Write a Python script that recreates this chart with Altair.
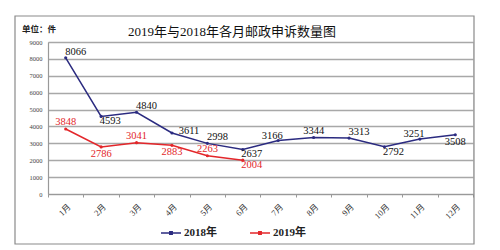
import altair as alt
import pandas as pd

months = ["1月", "2月", "3月", "4月", "5月", "6月", "7月", "8月", "9月", "10月", "11月", "12月"]
series_names = ["2018年", "2019年"]
v2018 = [8066, 4593, 4840, 3611, 2998, 2637, 3166, 3344, 3313, 2792, 3251, 3508]
v2019 = [3848, 2786, 3041, 2883, 2263, 2004]
# label placement keyword per point (like Excel's label position)
pos2018 = ["tr", "br", "tr", "r", "tr", "br", "tl", "t", "tr", "br", "tl", "b"]
pos2019 = ["t", "b", "t", "b", "t", "br"]
title_text = "2019年与2018年各月邮政申诉数量图"
unit_text = "单位：件"
y_ticks = [0, 1000, 2000, 3000, 4000, 5000, 6000, 7000, 8000, 9000]

rows = []
for m, v, p in zip(months, v2018, pos2018):
    rows.append({"month": m, "series": series_names[0], "value": v, "pos": p})
for m, v, p in zip(months, v2019, pos2019):
    rows.append({"month": m, "series": series_names[1], "value": v, "pos": p})
df = pd.DataFrame(rows)

NAVY = "#2b2b80"
RED = "#e3262a"
SERIF = "Liberation Serif, Noto Sans CJK SC"

x_enc = alt.X("month:N", sort=months, scale=alt.Scale(domain=months),
              axis=alt.Axis(title=None, labelAngle=-45, labelFont=SERIF, labelFontSize=8.5,
                            labelColor="#333", domainColor="#999", domainWidth=1.2,
                            tickBand="extent", tickColor="#999", tickSize=3,
                            labelPadding=5, grid=False))
y_enc = alt.Y("value:Q", scale=alt.Scale(domain=[0, 9000], nice=False),
              axis=alt.Axis(title=None, values=y_ticks, format="d", labelFont=SERIF,
                            labelFontSize=6.5, labelColor="#444", domainColor="#999",
                            domainWidth=1.2, ticks=False, labelPadding=6, labelOverlap=False,
                            gridColor="#a8a8a8", gridWidth=1.5))

color_enc = alt.Color("series:N", scale=alt.Scale(domain=series_names, range=[NAVY, RED]),
                      legend=alt.Legend(title=None, orient="none", legendX=112, legendY=180,
                                        direction="horizontal",
                                        symbolType="M-1,0H1M-0.12,-0.12H0.12V0.12H-0.12Z",
                                        symbolSize=400, symbolStrokeWidth=1.5,
                                        labelFont=SERIF, labelFontSize=11,
                                        labelFontWeight="bold", labelColor="#222",
                                        columnPadding=30, labelOffset=2))

base = alt.Chart(df)

lines = base.mark_line(strokeWidth=1.5, point=alt.OverlayMarkDef(filled=True, size=10)).encode(
    x=x_enc, y=y_enc, color=color_enc)

offsets = {"t": (0, -7), "b": (0, 7), "tr": (10, -6), "br": (9, 5), "tl": (-6, -5), "r": (17, -2)}
label_layers = []
for key, (dx, dy) in offsets.items():
    label_layers.append(
        base.transform_filter(alt.datum.pos == key).mark_text(
            dx=dx, dy=dy, font=SERIF, fontSize=10.5, baseline="middle", align="center"
        ).encode(
            x=x_enc,
            y=y_enc,
            text="value:Q",
            color=alt.condition(alt.datum.series == series_names[1], alt.value(RED), alt.value("#111")),
        )
    )

one = pd.DataFrame({"t": [unit_text], "title": [title_text]})
frame = alt.Chart(one).mark_rect(fill=None, stroke="#8a8a8a", strokeWidth=1.2, clip=False).encode(
    x=alt.value(-33), x2=alt.value(426), y=alt.value(-26), y2=alt.value(202))
unit = alt.Chart(one).mark_text(align="left", baseline="middle", font=SERIF, fontSize=8.5,
                                fontWeight="bold", color="#222").encode(
    x=alt.value(-26), y=alt.value(-13), text="t:N")
title = alt.Chart(one).mark_text(align="left", baseline="middle", font=SERIF, fontSize=13,
                                 color="#111").encode(
    x=alt.value(80), y=alt.value(-10), text="title:N")

chart = alt.layer(frame, lines, *label_layers, unit, title).properties(
    width=425, height=152,
    autosize=alt.AutoSizeParams(type="none"),
    padding={"left": 48, "top": 42, "right": 27, "bottom": 56},
).configure_view(stroke=None).configure(background="white")

chart.save("out.html", embed_options={"renderer": "svg", "actions": False})
